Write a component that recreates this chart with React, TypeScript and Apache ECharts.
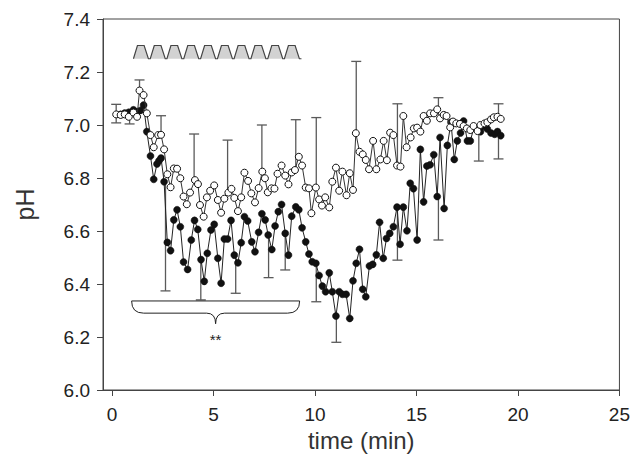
import React, { useEffect, useRef } from "react";
import * as echarts from "echarts";

const xTicks = [0, 5, 10, 15, 20, 25];

// open circles: [time (min), pH]
const openData = [
  [0.20, 7.040], [0.42, 7.038], [0.62, 7.040], [0.82, 7.031], [1.05, 7.047], [1.23, 7.031], [1.35, 7.130], [1.55, 7.113],
  [1.71, 7.044], [1.89, 6.962], [2.05, 6.916], [2.27, 6.962], [2.41, 6.963], [2.56, 6.908], [2.72, 6.814], [2.88, 6.765],
  [3.04, 6.836], [3.20, 6.835], [3.36, 6.799], [3.52, 6.730], [3.68, 6.701], [3.84, 6.745], [4.08, 6.792], [4.23, 6.777],
  [4.33, 6.698], [4.51, 6.654], [4.67, 6.727], [4.83, 6.752], [5.03, 6.772], [5.21, 6.717], [5.37, 6.669], [5.53, 6.722],
  [5.73, 6.745], [5.88, 6.759], [6.02, 6.725], [6.20, 6.675], [6.36, 6.727], [6.52, 6.820], [6.70, 6.789], [6.86, 6.742],
  [7.04, 6.708], [7.22, 6.762], [7.40, 6.824], [7.53, 6.799], [7.67, 6.746], [7.85, 6.761], [8.00, 6.760], [8.15, 6.816],
  [8.35, 6.847], [8.53, 6.809], [8.69, 6.776], [8.85, 6.821], [9.01, 6.830], [9.20, 6.880], [9.36, 6.847], [9.54, 6.764],
  [9.70, 6.761], [9.82, 6.667], [10.04, 6.764], [10.20, 6.719], [10.34, 6.696], [10.50, 6.727], [10.70, 6.689], [10.85, 6.786],
  [11.03, 6.839], [11.19, 6.752], [11.35, 6.824], [11.55, 6.735], [11.71, 6.818], [11.87, 6.755], [12.01, 6.969], [12.19, 6.899],
  [12.35, 6.889], [12.50, 6.868], [12.66, 6.833], [12.86, 6.940], [13.02, 6.833], [13.22, 6.870], [13.38, 6.940], [13.54, 6.867],
  [13.70, 6.971], [13.86, 6.962], [14.04, 6.847], [14.21, 6.843], [14.35, 7.034], [14.51, 6.916], [14.71, 6.953], [14.87, 6.987],
  [15.03, 6.990], [15.19, 6.975], [15.35, 7.034], [15.51, 7.016], [15.67, 7.044], [15.86, 7.044], [16.02, 7.059], [16.16, 7.025],
  [16.34, 7.038], [16.48, 7.034], [16.66, 6.991], [16.80, 7.013], [16.96, 7.006], [17.14, 7.004], [17.32, 6.996], [17.48, 6.987],
  [17.65, 6.981], [17.81, 6.996], [18.01, 6.977], [18.15, 7.000], [18.35, 7.006], [18.49, 7.010], [18.67, 7.021], [18.81, 7.029],
  [18.99, 7.031], [19.15, 7.023],
];

// filled circles: [time (min), pH]
const filledData = [
  [0.42, 7.040], [0.62, 7.045], [0.82, 7.048], [1.05, 7.057], [1.23, 7.050], [1.39, 7.055], [1.55, 7.075], [1.71, 6.975],
  [1.89, 6.883], [2.05, 6.795], [2.21, 6.853], [2.31, 6.865], [2.41, 6.875], [2.56, 6.786], [2.72, 6.557], [2.88, 6.526],
  [3.04, 6.642], [3.20, 6.680], [3.36, 6.616], [3.52, 6.483], [3.72, 6.455], [3.90, 6.566], [4.06, 6.640], [4.22, 6.606],
  [4.38, 6.492], [4.54, 6.410], [4.69, 6.516], [4.87, 6.604], [5.03, 6.625], [5.21, 6.497], [5.37, 6.403], [5.53, 6.570],
  [5.69, 6.570], [5.86, 6.640], [6.02, 6.509], [6.20, 6.480], [6.36, 6.556], [6.52, 6.654], [6.68, 6.638], [6.88, 6.559],
  [7.04, 6.522], [7.22, 6.595], [7.38, 6.665], [7.54, 6.642], [7.69, 6.585], [7.87, 6.530], [8.03, 6.619], [8.19, 6.673],
  [8.35, 6.700], [8.53, 6.591], [8.69, 6.509], [8.85, 6.656], [9.05, 6.691], [9.20, 6.680], [9.36, 6.612], [9.54, 6.559],
  [9.70, 6.513], [9.86, 6.484], [10.04, 6.478], [10.20, 6.432], [10.36, 6.392], [10.52, 6.371], [10.70, 6.442], [10.85, 6.371],
  [11.03, 6.279], [11.19, 6.371], [11.35, 6.361], [11.53, 6.361], [11.71, 6.270], [11.87, 6.412], [12.03, 6.478], [12.19, 6.531],
  [12.35, 6.380], [12.50, 6.352], [12.68, 6.468], [12.84, 6.474], [13.02, 6.510], [13.18, 6.633], [13.36, 6.497], [13.52, 6.572],
  [13.68, 6.591], [13.86, 6.616], [14.04, 6.690], [14.19, 6.550], [14.35, 6.690], [14.53, 6.601], [14.69, 6.780], [14.85, 6.760],
  [15.03, 6.566], [15.19, 6.908], [15.35, 6.710], [15.51, 6.845], [15.67, 6.850], [15.85, 6.888], [16.02, 6.730], [16.16, 6.953],
  [16.36, 6.685], [16.52, 6.923], [16.70, 7.010], [16.86, 6.870], [17.01, 6.940], [17.17, 6.970], [17.32, 7.015], [17.51, 6.940],
  [17.65, 6.940], [17.83, 6.990], [18.01, 6.985], [18.15, 6.975], [18.35, 6.995], [18.49, 6.985], [18.67, 6.970], [18.85, 6.965],
  [18.99, 6.975], [19.15, 6.960],
];

// error bars: [time, from pH, to pH]
const errBars = [
  [0.20, 7.040, 7.078], [0.20, 7.040, 7.008], [0.86, 7.035, 7.004], [1.35, 7.130, 7.170],
  [2.41, 6.963, 7.035], [2.63, 6.786, 6.374], [4.04, 6.792, 6.966], [4.37, 6.492, 6.340],
  [5.69, 6.745, 6.943], [6.09, 6.509, 6.365], [7.38, 6.824, 7.000], [7.71, 6.585, 6.424],
  [9.05, 6.830, 7.020], [8.53, 6.591, 6.453], [10.06, 6.764, 7.028], [10.06, 6.478, 6.333],
  [11.05, 6.279, 6.180], [12.03, 6.969, 7.240], [14.06, 6.847, 7.080], [14.06, 6.690, 6.490],
  [16.08, 7.059, 7.103], [16.08, 6.730, 6.566], [18.07, 6.980, 6.864], [19.04, 7.030, 7.080],
  [19.04, 6.975, 6.872],
];

// stimulus train (pulse onsets, min) and its levels (pH units of the plot)
const stimOnsets = [1.05, 1.88, 2.70, 3.53, 4.36, 5.19, 6.01, 6.84, 7.67, 8.49];
const stimLevels = [7.25, 7.30];
const stimEnd = 9.33;

// brace under the stimulation period, and its label
const braceSpan = [0.96, 9.24];
const braceLevels = [6.336, 6.29, 6.25];
const starPos = [5.1, 6.19];
const starText = "**";

const FONT = "'Liberation Sans', Arial, sans-serif";

export default function App() {
  const ref = useRef<HTMLDivElement>(null);
  useEffect(() => {
    document.body.style.margin = "0";
    const chart = echarts.init(ref.current!, null, { renderer: "svg" });
    const option: any = {
      animation: false,
      backgroundColor: "#fff",
      grid: { left: 103, right: 12, top: 19, bottom: 69, show: true, borderColor: "#444", borderWidth: 1 },
      xAxis: {
        type: "value",
        min: -0.45,
        max: 25,
        name: "time (min)",
        nameLocation: "middle",
        nameGap: 38,
        nameTextStyle: { fontFamily: FONT, fontSize: 24, color: "#333" },
        axisLine: { show: true, onZero: false, lineStyle: { color: "#444", width: 1 } },
        axisTick: { show: true, length: 6, customValues: xTicks, lineStyle: { color: "#444" } },
        axisLabel: { customValues: xTicks, fontFamily: FONT, fontSize: 19, color: "#222", margin: 15 },
        splitLine: { show: false },
      },
      yAxis: {
        type: "value",
        min: 6.0,
        max: 7.4,
        interval: 0.2,
        name: "pH",
        nameLocation: "middle",
        nameGap: 66,
        nameTextStyle: { fontFamily: FONT, fontSize: 25, color: "#333" },
        axisLine: { show: true, onZero: false, lineStyle: { color: "#444", width: 1 } },
        axisTick: { show: true, length: 6, lineStyle: { color: "#444" } },
        axisLabel: {
          fontFamily: FONT, fontSize: 19, color: "#222", margin: 13,
          formatter: (v: number) => v.toFixed(1),
        },
        splitLine: { show: false },
      },
      series: [
        {
          type: "custom",
          name: "err",
          z: 1,
          silent: true,
          data: errBars,
          encode: { x: 0, y: [1, 2] },
          renderItem: (params: any, api: any) => {
            const t = api.value(0);
            const p0 = api.coord([t, api.value(1)]);
            const p1 = api.coord([t, api.value(2)]);
            const st = { stroke: "#5a5a5a", lineWidth: 1.3 };
            return {
              type: "group",
              children: [
                { type: "line", shape: { x1: p0[0], y1: p0[1], x2: p1[0], y2: p1[1] }, style: st },
                { type: "line", shape: { x1: p1[0] - 5, y1: p1[1], x2: p1[0] + 5, y2: p1[1] }, style: st },
              ],
            };
          },
        },
        {
          type: "line",
          name: "filled",
          z: 2,
          data: filledData,
          symbol: "circle",
          symbolSize: 7,
          showAllSymbol: true,
          itemStyle: { color: "#111", borderColor: "#111", borderWidth: 0.5 },
          lineStyle: { color: "#222", width: 1 },
        },
        {
          type: "line",
          name: "open",
          z: 3,
          data: openData,
          symbol: "circle",
          symbolSize: 7,
          showAllSymbol: true,
          itemStyle: { color: "#fff", borderColor: "#111", borderWidth: 1 },
          lineStyle: { color: "#333", width: 1 },
        },
        {
          type: "custom",
          name: "stim",
          z: 1,
          silent: true,
          data: [[stimOnsets[0], stimLevels[0]]],
          renderItem: (params: any, api: any) => {
            const [lo, hi] = stimLevels;
            const rise = 0.197, top = 0.33, fall = 0.21;
            const pts: number[][] = [];
            stimOnsets.forEach((o) => {
              pts.push(api.coord([o, lo]));
              pts.push(api.coord([o + rise, hi]));
              pts.push(api.coord([o + rise + top, hi]));
              pts.push(api.coord([o + rise + top + fall, lo]));
            });
            pts.push(api.coord([stimEnd, lo]));
            return {
              type: "group",
              children: [
                { type: "polygon", shape: { points: pts }, style: { fill: "#d2d2d2", stroke: "none" } },
                { type: "polyline", shape: { points: pts }, style: { fill: "none", stroke: "#444", lineWidth: 1.2 } },
              ],
            };
          },
        },
        {
          type: "custom",
          name: "brace",
          z: 1,
          silent: true,
          data: [[braceSpan[0], braceLevels[0]]],
          renderItem: (params: any, api: any) => {
            const [yTopV, yBotV, yTipV] = braceLevels;
            const a = api.coord([braceSpan[0], yTopV]);
            const b = api.coord([braceSpan[1], yTopV]);
            const yBot = api.coord([braceSpan[0], yBotV])[1];
            const yTip = api.coord([braceSpan[0], yTipV])[1];
            const x0 = a[0], x1 = b[0], yTop = a[1];
            const xc = (x0 + x1) / 2;
            const r = 12, rc = 9;
            const st = { stroke: "#222", lineWidth: 1, fill: "none" };
            const s = api.coord(starPos);
            return {
              type: "group",
              children: [
                { type: "line", shape: { x1: x0, y1: yTop, x2: x1, y2: yTop }, style: st },
                { type: "bezierCurve", shape: { x1: x0, y1: yTop, x2: x0 + r, y2: yBot, cpx1: x0, cpy1: yBot }, style: st },
                { type: "line", shape: { x1: x0 + r, y1: yBot, x2: xc - rc, y2: yBot }, style: st },
                { type: "bezierCurve", shape: { x1: xc - rc, y1: yBot, x2: xc, y2: yTip, cpx1: xc, cpy1: yBot }, style: st },
                { type: "bezierCurve", shape: { x1: xc, y1: yTip, x2: xc + rc, y2: yBot, cpx1: xc, cpy1: yBot }, style: st },
                { type: "line", shape: { x1: xc + rc, y1: yBot, x2: x1 - r, y2: yBot }, style: st },
                { type: "bezierCurve", shape: { x1: x1 - r, y1: yBot, x2: x1, y2: yTop, cpx1: x1, cpy1: yBot }, style: st },
                {
                  type: "text",
                  x: s[0],
                  y: s[1],
                  style: { text: starText, fontFamily: FONT, fontSize: 15, fill: "#222", align: "center", verticalAlign: "middle" },
                },
              ],
            };
          },
        },
      ],
    };
    chart.setOption(option);
    return () => chart.dispose();
  }, []);
  return <div ref={ref} style={{ width: 633, height: 459 }} />;
}
